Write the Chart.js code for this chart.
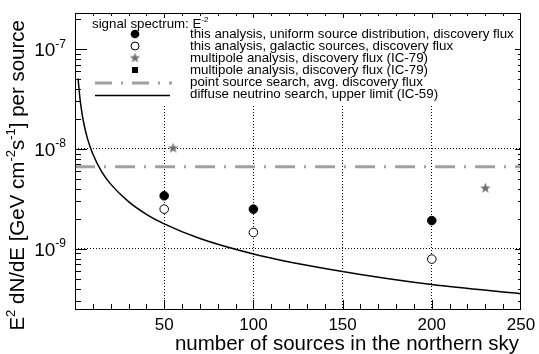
<!DOCTYPE html>
<html>
<head>
<meta charset="utf-8">
<script src="https://cdn.jsdelivr.net/npm/chart.js@4.4.1/dist/chart.umd.min.js"></script>
<style>
  html, body { margin: 0; padding: 0; background: #fff; }
  #wrap { width: 539px; height: 354px; }
</style>
</head>
<body>
<div id="wrap"><canvas id="fluxChart" width="539" height="354"></canvas></div>
<script>
// number of sources vs. per-source flux (E^2 dN/dE)
const nSources = [50, 100, 200];
const uniformFlux = [3.4e-9, 2.5e-9, 1.92e-9];
const galacticFlux = [2.5e-9, 1.46e-9, 7.9e-10];

const multipoleN = [55, 230];
const multipoleFlux = [1.02e-8, 4.05e-9];

const multipoleSquareN = [];
const multipoleSquareFlux = [];

const pointSourceN = [0, 250];
const pointSourceFlux = [6.65e-9, 6.65e-9];

const diffuseN = [1.75, 2, 3, 4, 5, 7, 10, 15, 20, 30, 40, 50, 70, 100, 130, 160, 200, 250];
const diffuseLimit = [5.1e-8, 4.45e-8, 2.97e-8, 2.23e-8, 1.78e-8, 1.27e-8, 8.9e-9, 5.9e-9,
                      4.45e-9, 2.97e-9, 2.22e-9, 1.78e-9, 1.27e-9, 8.9e-10, 6.85e-10,
                      5.55e-10, 4.4e-10, 3.56e-10];

const xTicks = [50, 100, 150, 200, 250];
const yTicks = [1e-9, 1e-8, 1e-7];
const yTickExp = ['-9', '-8', '-7'];

const FONT = "'Liberation Sans', Arial, Helvetica, sans-serif";
const GREY_DASH = [20, 9, 2, 9];

function pts(xs, ys) {
    return xs.map((x, i) => ({ x: x, y: ys[i] }));
}

// filled grey star used as point marker
function makeStar(r, color) {
    const c = document.createElement('canvas');
    const s = Math.ceil(r * 2 + 2);
    c.width = s; c.height = s;
    const g = c.getContext('2d');
    g.fillStyle = color;
    g.beginPath();
    for (let i = 0; i < 10; i++) {
        const rad = i % 2 === 0 ? r : r * 0.42;
        const a = -Math.PI / 2 + i * Math.PI / 5;
        const px = s / 2 + rad * Math.cos(a);
        const py = s / 2 + rad * Math.sin(a);
        if (i === 0) g.moveTo(px, py); else g.lineTo(px, py);
    }
    g.closePath();
    g.fill();
    return c;
}
const starImg = makeStar(5.5, '#707070');

// text with superscript pieces: [[text, isSup], ...]
function drawRich(ctx, parts, x, y, size, align) {
    const supSize = Math.round(size * 0.62);
    let total = 0;
    parts.forEach(p => {
        ctx.font = (p[1] ? supSize : size) + 'px ' + FONT;
        total += ctx.measureText(p[0]).width;
    });
    let cx = align === 'right' ? x - total : (align === 'center' ? x - total / 2 : x);
    ctx.textAlign = 'left';
    ctx.textBaseline = 'alphabetic';
    parts.forEach(p => {
        ctx.font = (p[1] ? supSize : size) + 'px ' + FONT;
        ctx.fillText(p[0], cx, p[1] ? y - size * 0.45 : y);
        cx += ctx.measureText(p[0]).width;
    });
}

const decorPlugin = {
    id: 'decor',
    afterDatasetsDraw(chart) {
        const ctx = chart.ctx;
        const a = chart.chartArea;
        ctx.save();
        // legend box
        ctx.fillStyle = '#fff';
        ctx.fillRect(82, a.top + 1, a.right - 83, 90);
        ctx.fillStyle = '#000';
        drawRich(ctx, [['signal spectrum: E', false], ['-2', true]], 92, 28, 13.3, 'left');

        const tx = 190;
        const rows = [
            'this analysis, uniform source distribution, discovery flux',
            'this analysis, galactic sources, discovery flux',
            'multipole analysis, discovery flux (IC-79)',
            'multipole analysis, discovery flux (IC-79)',
            'point source search, avg. discovery flux',
            'diffuse neutrino search, upper limit (IC-59)'
        ];
        const rowY = [34, 46, 58, 70, 82, 94];
        ctx.font = '13.3px ' + FONT;
        ctx.textBaseline = 'middle';
        ctx.textAlign = 'left';
        rows.forEach((t, i) => ctx.fillText(t, tx, rowY[i]));

        const mx = 135;
        ctx.beginPath(); ctx.arc(mx, rowY[0], 4.3, 0, Math.PI * 2); ctx.fill();
        ctx.beginPath(); ctx.arc(mx, rowY[1], 4, 0, Math.PI * 2);
        ctx.lineWidth = 1; ctx.strokeStyle = '#000'; ctx.stroke();
        ctx.drawImage(starImg, mx - starImg.width / 2, rowY[2] - starImg.height / 2);
        ctx.fillRect(mx - 3, rowY[3] - 3, 6, 6);

        ctx.strokeStyle = '#a0a0a0';
        ctx.lineWidth = 3;
        ctx.setLineDash([17, 9, 2, 9]);
        ctx.beginPath(); ctx.moveTo(95, rowY[4] + 1); ctx.lineTo(172, rowY[4] + 1); ctx.stroke();
        ctx.setLineDash([]);
        ctx.strokeStyle = '#000';
        ctx.lineWidth = 1.5;
        ctx.beginPath(); ctx.moveTo(95, rowY[5] + 1.5); ctx.lineTo(170, rowY[5] + 1.5); ctx.stroke();
        ctx.restore();
    },
    afterDraw(chart) {
        const ctx = chart.ctx;
        const a = chart.chartArea;
        const xs = chart.scales.x;
        const ys = chart.scales.y;
        ctx.save();
        ctx.strokeStyle = '#000';
        ctx.lineWidth = 1;
        ctx.strokeRect(a.left + 0.5, a.top + 0.5, a.right - a.left - 1, a.bottom - a.top);

        // x ticks, drawn inwards
        ctx.beginPath();
        for (let v = 10; v < 250; v += 10) {
            const px = Math.round(xs.getPixelForValue(v)) + 0.5;
            const major = v % 50 === 0;
            ctx.moveTo(px, a.bottom); ctx.lineTo(px, a.bottom - (major ? 9 : 5));
            ctx.moveTo(px, a.top); ctx.lineTo(px, a.top + (major ? 5 : 3));
        }
        // y ticks, log minor
        for (let e = -10; e <= -7; e++) {
            for (let m = 1; m <= 9; m++) {
                const v = m * Math.pow(10, e);
                if (v < ys.min || v > ys.max) continue;
                const py = Math.round(ys.getPixelForValue(v)) + 0.5;
                const len = m === 1 ? 12 : 6;
                ctx.moveTo(a.left, py); ctx.lineTo(a.left + len, py);
                ctx.moveTo(a.right, py); ctx.lineTo(a.right - (m === 1 ? 6 : 3), py);
            }
        }
        ctx.stroke();

        // tick labels
        ctx.fillStyle = '#000';
        ctx.font = '17px ' + FONT;
        ctx.textAlign = 'center';
        ctx.textBaseline = 'alphabetic';
        xTicks.forEach(v => ctx.fillText(String(v), xs.getPixelForValue(v), 330));
        yTicks.forEach((v, i) => {
            const py = ys.getPixelForValue(v);
            drawRich(ctx, [['10', false], [yTickExp[i], true]], 66, py + 7, 19, 'right');
        });

        // axis titles
        ctx.font = '20.5px ' + FONT;
        ctx.textAlign = 'right';
        ctx.fillText('number of sources in the northern sky', 519, 350);

        ctx.translate(24, 20);
        ctx.rotate(-Math.PI / 2);
        drawRich(ctx, [['E', false], ['2', true], [' dN/dE [GeV cm', false], ['-2', true],
                       ['s', false], ['-1', true], ['] per source', false]], 0, 0, 20.5, 'right');
        ctx.restore();
    }
};

new Chart(document.getElementById('fluxChart'), {
    type: 'scatter',
    data: {
        datasets: [
            {
                label: 'diffuse neutrino search, upper limit (IC-59)',
                data: pts(diffuseN, diffuseLimit),
                showLine: true,
                borderColor: '#000',
                borderWidth: 1.5,
                pointRadius: 0,
                cubicInterpolationMode: 'monotone'
            },
            {
                label: 'point source search, avg. discovery flux',
                data: pts(pointSourceN, pointSourceFlux),
                showLine: true,
                borderColor: '#a0a0a0',
                borderWidth: 3,
                borderDash: GREY_DASH,
                pointRadius: 0
            },
            {
                label: 'this analysis, uniform source distribution, discovery flux',
                data: pts(nSources, uniformFlux),
                pointStyle: 'circle',
                pointRadius: 4.3,
                backgroundColor: '#000',
                borderColor: '#000'
            },
            {
                label: 'this analysis, galactic sources, discovery flux',
                data: pts(nSources, galacticFlux),
                pointStyle: 'circle',
                pointRadius: 4.3,
                backgroundColor: '#fff',
                borderColor: '#000',
                borderWidth: 1
            },
            {
                label: 'multipole analysis, discovery flux (IC-79)',
                data: pts(multipoleN, multipoleFlux),
                pointStyle: starImg
            },
            {
                label: 'multipole analysis, discovery flux (IC-79)',
                data: pts(multipoleSquareN, multipoleSquareFlux),
                pointStyle: 'rect',
                pointRadius: 3,
                backgroundColor: '#000'
            }
        ]
    },
    options: {
        responsive: false,
        animation: false,
        devicePixelRatio: 1,
        clip: false,
        layout: { padding: { top: 13, right: 18, left: 0, bottom: 0 } },
        plugins: { legend: { display: false }, tooltip: { enabled: false } },
        scales: {
            x: {
                type: 'linear',
                min: 0,
                max: 250,
                afterBuildTicks: s => { s.ticks = [50, 100, 150, 200].map(v => ({ value: v })); },
                afterFit: s => { s.height = 45; },
                ticks: { display: false },
                border: { display: false, dash: [1, 2] },
                grid: { color: '#000', lineWidth: 1, drawTicks: false }
            },
            y: {
                type: 'logarithmic',
                min: 2.5e-10,
                max: 2.3e-7,
                afterBuildTicks: s => { s.ticks = yTicks.map(v => ({ value: v })); },
                afterFit: s => { s.width = 75; },
                ticks: { display: false },
                border: { display: false, dash: [1, 2] },
                grid: { color: '#000', lineWidth: 1, drawTicks: false }
            }
        }
    },
    plugins: [decorPlugin]
});
</script>
</body>
</html>
